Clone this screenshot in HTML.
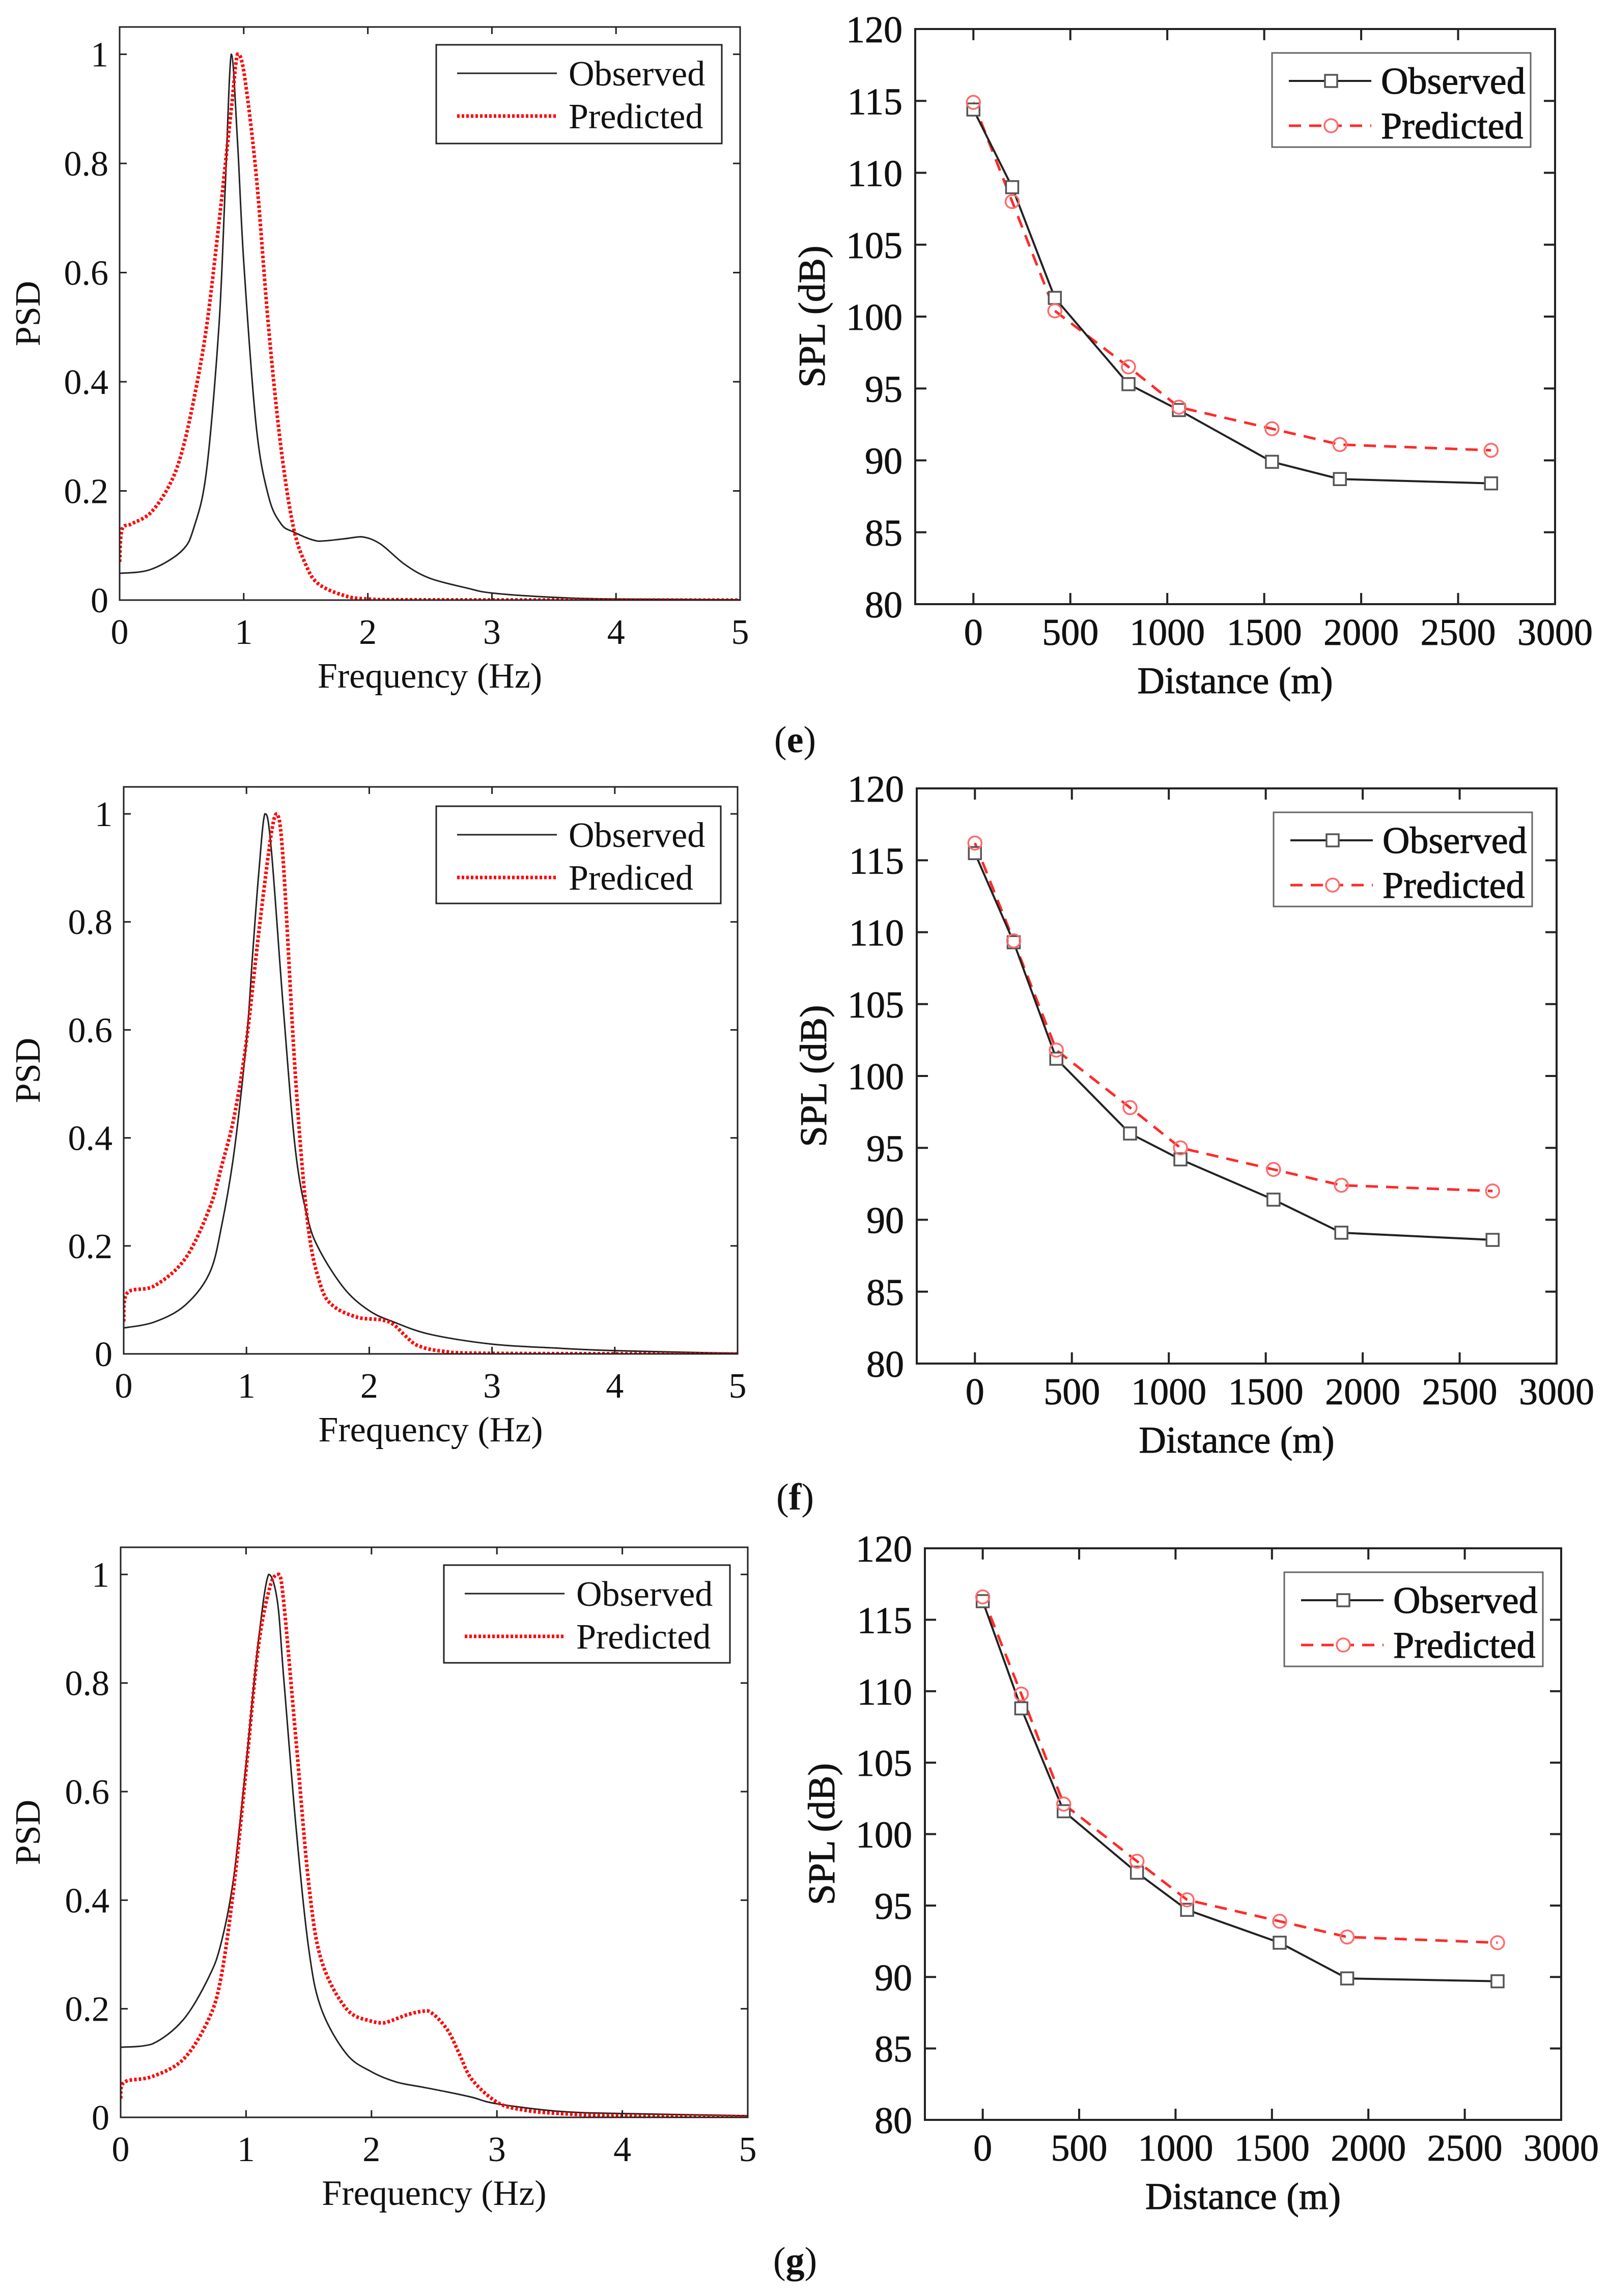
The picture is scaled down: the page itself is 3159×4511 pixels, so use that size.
<!DOCTYPE html>
<html><head><meta charset="utf-8"><style>
html,body{margin:0;padding:0;background:#fff;}
svg{display:block;}
text{font-family:"Liberation Serif",serif;fill:#111;}
</style></head><body>
<svg id="fig" width="3159" height="4511" viewBox="0 0 3159 4511" xmlns="http://www.w3.org/2000/svg"></svg>
<script>
// ---------- PSD data (frequency in Hz, normalized PSD) ----------
const psdE_obsF = [0,0.25,0.5,0.6,0.7,0.8,0.85,0.9,0.95,1.0,1.1,1.2,1.3,1.4,1.6,1.8,1.95,2.1,2.3,2.5,2.8,3.0,3.5,4,5];
const psdE_obsV = [0.049,0.056,0.09,0.134,0.237,0.50,0.75,1.0,0.84,0.62,0.32,0.19,0.14,0.125,0.108,0.112,0.116,0.103,0.065,0.04,0.022,0.013,0.005,0.002,0.0005];
const psdE_preF = [0,0.02,0.1,0.25,0.4,0.5,0.6,0.7,0.8,0.9,0.95,1.0,1.1,1.2,1.3,1.4,1.5,1.6,1.8,2.0,2.5,5];
const psdE_preV = [0.07,0.13,0.14,0.16,0.21,0.27,0.37,0.50,0.69,0.90,1.0,0.97,0.78,0.50,0.28,0.134,0.065,0.03,0.009,0.002,0.0005,0];

const psdF_obsF = [0,0.25,0.5,0.7,0.8,0.9,1.0,1.05,1.1,1.15,1.2,1.3,1.4,1.5,1.6,1.8,2.0,2.2,2.5,3.0,3.5,4,5];
const psdF_obsV = [0.048,0.059,0.09,0.15,0.24,0.375,0.58,0.74,0.89,1.0,0.94,0.64,0.375,0.25,0.19,0.12,0.08,0.059,0.036,0.018,0.011,0.006,0.001];
const psdF_preF = [0,0.03,0.25,0.5,0.7,0.8,0.9,1.0,1.1,1.2,1.25,1.3,1.4,1.5,1.6,1.7,1.9,2.1,2.2,2.3,2.4,2.6,3,5];
const psdF_preV = [0.06,0.113,0.126,0.176,0.27,0.35,0.44,0.58,0.78,0.96,1.0,0.91,0.51,0.24,0.13,0.09,0.068,0.063,0.054,0.032,0.015,0.005,0.001,0];

const psdG_obsF = [0,0.25,0.5,0.7,0.8,0.9,1.0,1.1,1.18,1.25,1.3,1.4,1.5,1.6,1.8,2.0,2.2,2.4,2.6,2.8,3.0,3.5,4,5];
const psdG_obsV = [0.129,0.135,0.18,0.257,0.32,0.44,0.65,0.88,1.0,0.95,0.81,0.53,0.31,0.20,0.117,0.084,0.065,0.056,0.047,0.037,0.025,0.011,0.007,0.003];
const psdG_preF = [0,0.03,0.25,0.5,0.7,0.8,0.9,1.0,1.1,1.2,1.26,1.3,1.4,1.5,1.6,1.8,2.0,2.1,2.3,2.45,2.6,2.7,2.8,3.0,3.2,3.5,4,5];
const psdG_preV = [0.035,0.065,0.075,0.107,0.18,0.257,0.42,0.64,0.87,0.985,1.0,0.95,0.69,0.43,0.29,0.20,0.177,0.174,0.19,0.196,0.163,0.117,0.07,0.028,0.014,0.007,0.003,0.001];

// ---------- SPL data (distance in m, SPL in dB) ----------
const distances = [0,200,420,800,1060,1540,1890,2670];
const splE_obs = [114.4,109.0,101.3,95.3,93.5,89.9,88.7,88.4];
const splE_pre = [114.9,108.0,100.4,96.5,93.7,92.2,91.1,90.7];
const splF_obs = [115.5,109.3,101.2,96.0,94.2,91.4,89.1,88.6];
const splF_pre = [116.2,109.4,101.8,97.8,95.0,93.5,92.4,92.0];
const splG_obs = [116.3,108.8,101.6,97.3,94.7,92.4,89.9,89.7];
const splG_pre = [116.6,109.8,102.1,98.1,95.4,93.9,92.8,92.4];

const psdTicksY = [0,0.2,0.4,0.6,0.8,1];
const psdTickLabelsY = ["0","0.2","0.4","0.6","0.8","1"];
const psdTicksX = [0,1,2,3,4,5];
const splTicksY = [80,85,90,95,100,105,110,115,120];
const splTicksX = [0,500,1000,1500,2000,2500,3000];

const NS="http://www.w3.org/2000/svg";
const svg=document.getElementById('fig');
function mk(tag,attrs,parent){const e=document.createElementNS(NS,tag);for(const k in attrs)e.setAttribute(k,attrs[k]);(parent||svg).appendChild(e);return e;}
function txt(s,attrs,parent){const e=mk('text',attrs,parent);e.textContent=s;return e;}
function clampv(v,a,b){const lo=Math.min(a,b),hi=Math.max(a,b);return Math.max(lo,Math.min(hi,v));}
function smoothPath(pts){
  let d='M'+pts[0][0].toFixed(1)+','+pts[0][1].toFixed(1);
  for(let i=0;i<pts.length-1;i++){
    const p0=pts[Math.max(0,i-1)],p1=pts[i],p2=pts[i+1],p3=pts[Math.min(pts.length-1,i+2)];
    const t=6;
    const c1=[p1[0]+(p2[0]-p0[0])/t,clampv(p1[1]+(p2[1]-p0[1])/t,p1[1],p2[1])];
    const c2=[p2[0]-(p3[0]-p1[0])/t,clampv(p2[1]-(p3[1]-p1[1])/t,p1[1],p2[1])];
    d+=' C'+c1[0].toFixed(1)+','+c1[1].toFixed(1)+' '+c2[0].toFixed(1)+','+c2[1].toFixed(1)+' '+p2[0].toFixed(1)+','+p2[1].toFixed(1);
  }
  return d;
}

function psdPanel(id,box,obsF,obsV,preF,preV,predLabel,leg){
  const g=mk('g',{});
  
  
  const [L,T,R,B]=box;
  const sx=f=>L+(f/5)*(R-L);
  const sy=v=>B-(v/1.05)*(B-T);
  const clip=mk('clipPath',{id:'clip'+id},g);
  mk('rect',{x:L,y:T,width:R-L,height:B-T},clip);
  const po=mk('path',{d:smoothPath(obsF.map((f,i)=>[sx(f),sy(obsV[i])])),fill:'none',stroke:'#222','stroke-width':3,'clip-path':'url(#clip'+id+')'},g);
  
  
  const pp=mk('path',{d:smoothPath(preF.map((f,i)=>[sx(f),sy(preV[i])])),fill:'none',stroke:'#f00','stroke-width':7,'stroke-dasharray':'5 4','clip-path':'url(#clip'+id+')'},g);
  
  
  mk('rect',{x:L,y:T,width:R-L,height:B-T,fill:'none',stroke:'#222','stroke-width':3},g);
  psdTicksY.forEach((v,i)=>{
    const y=sy(v);
    mk('line',{x1:L,y1:y,x2:L+14,y2:y,stroke:'#222','stroke-width':3},g);
    mk('line',{x1:R,y1:y,x2:R-14,y2:y,stroke:'#222','stroke-width':3},g);
    const t=txt(psdTickLabelsY[i],{x:L-22,y:y+24,'font-size':70,'text-anchor':'end'},g);
    
    
  });
  psdTicksX.forEach(v=>{
    const x=sx(v);
    mk('line',{x1:x,y1:B,x2:x,y2:B-14,stroke:'#222','stroke-width':3},g);
    mk('line',{x1:x,y1:T,x2:x,y2:T+14,stroke:'#222','stroke-width':3},g);
    const t=txt(String(v),{x:x,y:B+86,'font-size':70,'text-anchor':'middle'},g);
    
    
  });
  const xt=txt('Frequency (Hz)',{x:(L+R)/2,y:B+172,'font-size':70,'text-anchor':'middle'},g);
  
  
  const yc=(T+B)/2;
  const yt=txt('PSD',{x:0,y:0,'font-size':70,'text-anchor':'middle',transform:'translate(78,'+yc+') rotate(-90)'},g);
  
  
  const lg=mk('g',{},g);
  
  
  const lx=R-leg.off-leg.w, ly=T+leg.top;
  mk('rect',{x:lx,y:ly,width:leg.w,height:leg.h,fill:'#fff',stroke:'#222','stroke-width':3},lg);
  mk('line',{x1:lx+41,y1:ly+56,x2:lx+237,y2:ly+56,stroke:'#222','stroke-width':3},lg);
  mk('line',{x1:lx+41,y1:ly+140,x2:lx+237,y2:ly+140,stroke:'#f00','stroke-width':7,'stroke-dasharray':'5 4'},lg);
  const e1=txt('Observed',{x:lx+260,y:ly+80,'font-size':70},lg);
  
  
  const e2=txt(predLabel,{x:lx+260,y:ly+164,'font-size':70},lg);
  
  
}

function splPanel(id,box,obs,pre,leg){
  const g=mk('g',{});
  
  
  const [L,T,R,B]=box;
  const sx=d=>L+((d+300)/3300)*(R-L);
  const sy=v=>B-((v-80)/40)*(B-T);
  const op=distances.map((d,i)=>[sx(d),sy(obs[i])]);
  const pp=distances.map((d,i)=>[sx(d),sy(pre[i])]);
  const pl=mk('polyline',{points:pp.map(p=>p.join(',')).join(' '),fill:'none',stroke:'#ff2a2a','stroke-width':5,'stroke-dasharray':'24 16'},g);
  
  
  const ol=mk('polyline',{points:op.map(p=>p.join(',')).join(' '),fill:'none',stroke:'#222','stroke-width':4},g);
  
  
  op.forEach(p=>{
    const s=mk('rect',{x:p[0]-12,y:p[1]-12,width:24,height:24,fill:'#fff',stroke:'#555','stroke-width':3.5},g);
    
    
  });
  pp.forEach(p=>{
    const c=mk('circle',{cx:p[0],cy:p[1],r:13,fill:'none',stroke:'#ff6a6a','stroke-width':3.5},g);
    
    
  });
  mk('rect',{x:L,y:T,width:R-L,height:B-T,fill:'none',stroke:'#222','stroke-width':4},g);
  splTicksY.forEach(v=>{
    const y=sy(v);
    mk('line',{x1:L,y1:y,x2:L+22,y2:y,stroke:'#222','stroke-width':4},g);
    mk('line',{x1:R,y1:y,x2:R-22,y2:y,stroke:'#222','stroke-width':4},g);
    const t=txt(String(v),{x:L-25,y:y+26,'font-size':74,'text-anchor':'end',stroke:'#111','stroke-width':0.8},g);
    
    
  });
  splTicksX.forEach(v=>{
    const x=sx(v);
    mk('line',{x1:x,y1:B,x2:x,y2:B-22,stroke:'#222','stroke-width':4},g);
    mk('line',{x1:x,y1:T,x2:x,y2:T+22,stroke:'#222','stroke-width':4},g);
    const t=txt(String(v),{x:x,y:B+80,'font-size':74,'text-anchor':'middle',stroke:'#111','stroke-width':0.8},g);
    
    
  });
  const xt=txt('Distance (m)',{x:(L+R)/2,y:B+175,'font-size':74,'text-anchor':'middle',stroke:'#111','stroke-width':1},g);
  
  
  const yt=txt('SPL (dB)',{x:0,y:0,'font-size':74,'text-anchor':'middle',stroke:'#111','stroke-width':1,transform:'translate('+(L-178)+','+((T+B)/2)+') rotate(-90)'},g);
  
  
  const lg=mk('g',{},g);
  
  
  const lx=R-leg.off-508, ly=T+leg.top;
  mk('rect',{x:lx,y:ly,width:508,height:185,fill:'#fff',stroke:'#666','stroke-width':3},lg);
  mk('line',{x1:lx+33,y1:ly+55,x2:lx+195,y2:ly+55,stroke:'#222','stroke-width':4},lg);
  mk('rect',{x:lx+104,y:ly+43,width:24,height:24,fill:'#fff',stroke:'#555','stroke-width':3.5},lg);
  mk('line',{x1:lx+33,y1:ly+143,x2:lx+195,y2:ly+143,stroke:'#ff2a2a','stroke-width':5,'stroke-dasharray':'24 16'},lg);
  mk('circle',{cx:lx+116,cy:ly+143,r:13,fill:'#fff',stroke:'#ff6a6a','stroke-width':3.5},lg);
  const e1=txt('Observed',{x:lx+214,y:ly+80,'font-size':74,stroke:'#111','stroke-width':1},lg);
  
  
  const e2=txt('Predicted',{x:lx+214,y:ly+168,'font-size':74,stroke:'#111','stroke-width':1},lg);
  
  
}

psdPanel('e',[235,53,1454,1179],psdE_obsF,psdE_obsV,psdE_preF,psdE_preV,'Predicted',{off:36,top:35,w:561,h:194});
psdPanel('f',[243,1546,1449,2660],psdF_obsF,psdF_obsV,psdF_preF,psdF_preV,'Prediced',{off:33,top:38,w:559,h:191});
psdPanel('g',[237,3040,1469,4160],psdG_obsF,psdG_obsV,psdG_preF,psdG_preV,'Predicted',{off:35,top:35,w:562,h:192});
splPanel('e',[1798,57,3055,1187],splE_obs,splE_pre,{off:48,top:47});
splPanel('f',[1801,1549,3058,2679],splF_obs,splF_pre,{off:48,top:47});
splPanel('g',[1817,3042,3067,4165],splG_obs,splG_pre,{off:36,top:47});

[['e',1478],['f',2966],['g',4466]].forEach(([l,y])=>{
  const t=mk('text',{x:1562,y:y,'font-size':74,'text-anchor':'middle'});
  
  
  const a=document.createElementNS(NS,'tspan');a.textContent='(';t.appendChild(a);
  const b=document.createElementNS(NS,'tspan');b.setAttribute('font-weight','bold');b.textContent=l;t.appendChild(b);
  const c=document.createElementNS(NS,'tspan');c.textContent=')';t.appendChild(c);
});
</script>
</body></html>
